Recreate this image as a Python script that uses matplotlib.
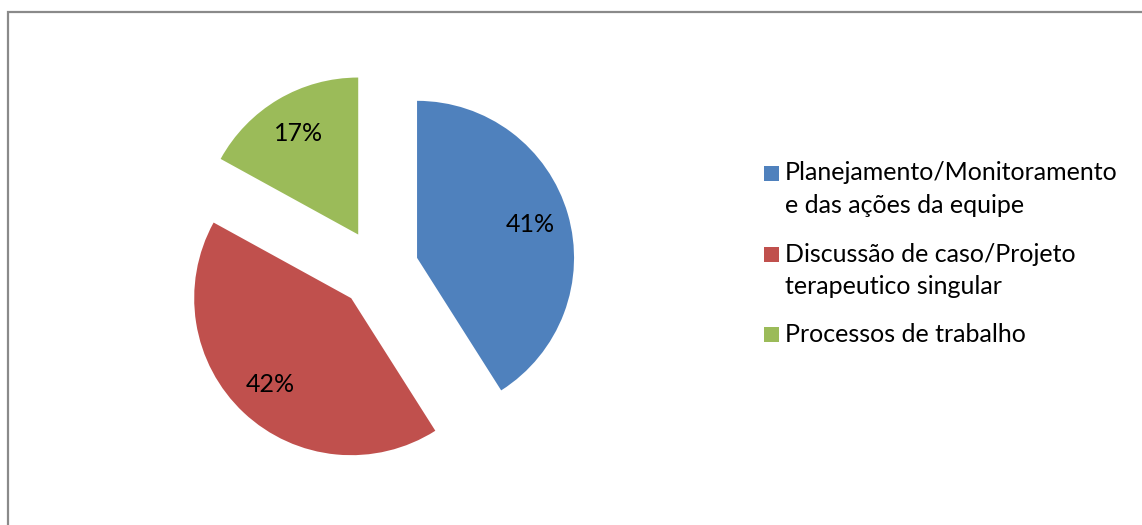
import matplotlib.pyplot as plt
from matplotlib.patches import Rectangle

labels = ['Planejamento/Monitoramento\ne das ações da equipe',
          'Discussão de caso/Projeto\nterapeutico singular',
          'Processos de trabalho']
shares = [41, 42, 17]
colors = ['#4F81BD', '#C0504D', '#9BBB59']

plt.rcParams['font.family'] = ['Lato', 'DejaVu Sans']

W, H = 1142, 525
fig = plt.figure(figsize=(W / 100, H / 100), dpi=100)

# outer chart frame, runs off the right and bottom edges
fig.add_artist(Rectangle((8 / W, -0.05), 1.1, (H - 12) / H + 0.05,
                         transform=fig.transFigure, fill=False,
                         edgecolor='#8a8a8a', lw=1.6))

# pie placed in pixels: radius r, centre (cx, cy)
r = 157
cx, cy = 378.6, H - 269
half = 1.6
ax = fig.add_axes([(cx - half * r) / W, (cy - half * r) / H,
                   2 * half * r / W, 2 * half * r / H])
wedges, texts, autotexts = ax.pie(shares, colors=colors, startangle=90,
                                  counterclock=False, explode=[0.255] * 3,
                                  autopct='%.0f%%', pctdistance=0.75,
                                  textprops={'fontsize': 18, 'color': 'black'})
ax.set_xlim(-half, half)
ax.set_ylim(-half, half)
ax.set_aspect('equal')

# legend on the right
entry_y = [173, 254, 334]
pitch = 32.5
box = 15
for lab, col, y in zip(labels, colors, entry_y):
    fig.add_artist(Rectangle((764 / W, (H - y - box / 2) / H), box / W, box / H,
                             transform=fig.transFigure, color=col, lw=0))
    for i, line in enumerate(lab.split('\n')):
        fig.text(785 / W, (H - y - i * pitch) / H, line, fontsize=18,
                 va='center', ha='left')

fig.savefig('out.png', dpi=100)
